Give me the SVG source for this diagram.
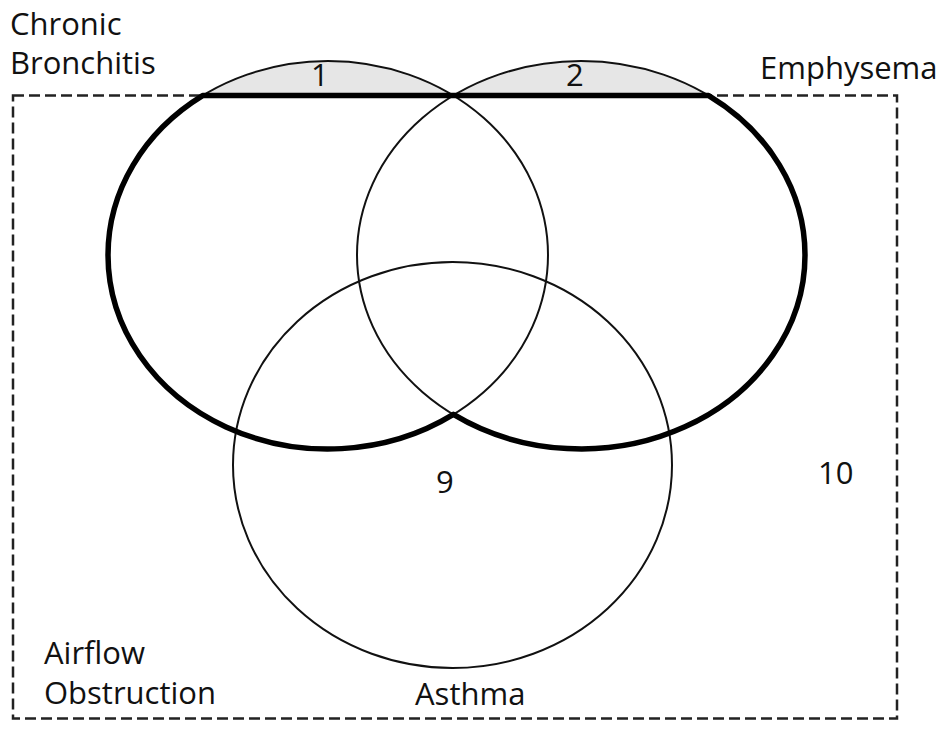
<svg xmlns="http://www.w3.org/2000/svg" width="942" height="730" viewBox="0 0 942 730">
<style>
  .lbl { font-family: "Open Sans", "Noto Sans", "Liberation Sans", sans-serif; font-size: 31px; fill: #111; }
  .thin { fill: none; stroke: #111; stroke-width: 2; }
  .thick { fill: none; stroke: #000; stroke-width: 5.5; stroke-linejoin: round; }
  .dash { fill: none; stroke: #222; stroke-width: 2.5; stroke-dasharray: 11 5; }
</style>
<defs>
  <clipPath id="above">
    <rect x="0" y="0" width="942" height="95.6"/>
  </clipPath>
</defs>
<rect width="942" height="730" fill="#fff"/>
<g id="airflow-obstruction">
  <rect class="dash" x="13" y="95.6" width="884" height="623"/>
  <text class="lbl" x="44" y="664">Airflow</text>
  <text class="lbl" x="44" y="704">Obstruction</text>
</g>
<g id="chronic-bronchitis">
  <ellipse cx="328" cy="255" rx="220" ry="194" fill="#e6e6e6" clip-path="url(#above)"/>
  <ellipse class="thin" cx="328" cy="255" rx="220" ry="194"/>
  <text class="lbl" x="10" y="35">Chronic</text>
  <text class="lbl" x="10" y="74">Bronchitis</text>
  <text class="lbl" x="311" y="86">1</text>
</g>
<g id="emphysema">
  <ellipse cx="581" cy="255" rx="224" ry="194" fill="#e6e6e6" clip-path="url(#above)"/>
  <ellipse class="thin" cx="581" cy="255" rx="224" ry="194"/>
  <text class="lbl" x="760" y="79">Emphysema</text>
  <text class="lbl" x="566" y="86">2</text>
</g>
<g id="asthma">
  <ellipse class="thin" cx="452.5" cy="465" rx="219.5" ry="203"/>
  <text class="lbl" x="415" y="705">Asthma</text>
  <text class="lbl" x="436" y="493">9</text>
</g>
<g id="outside">
  <text class="lbl" x="818" y="484">10</text>
</g>
<g id="connectors">
  <path class="thick" d="M202.6,95.6 L708.7,95.6 A224,194 0 0 1 805,255 A224,194 0 0 1 453.4,414.4 A220,194 0 0 1 108,255 A220,194 0 0 1 202.6,95.6 Z"/>
</g>
</svg>
